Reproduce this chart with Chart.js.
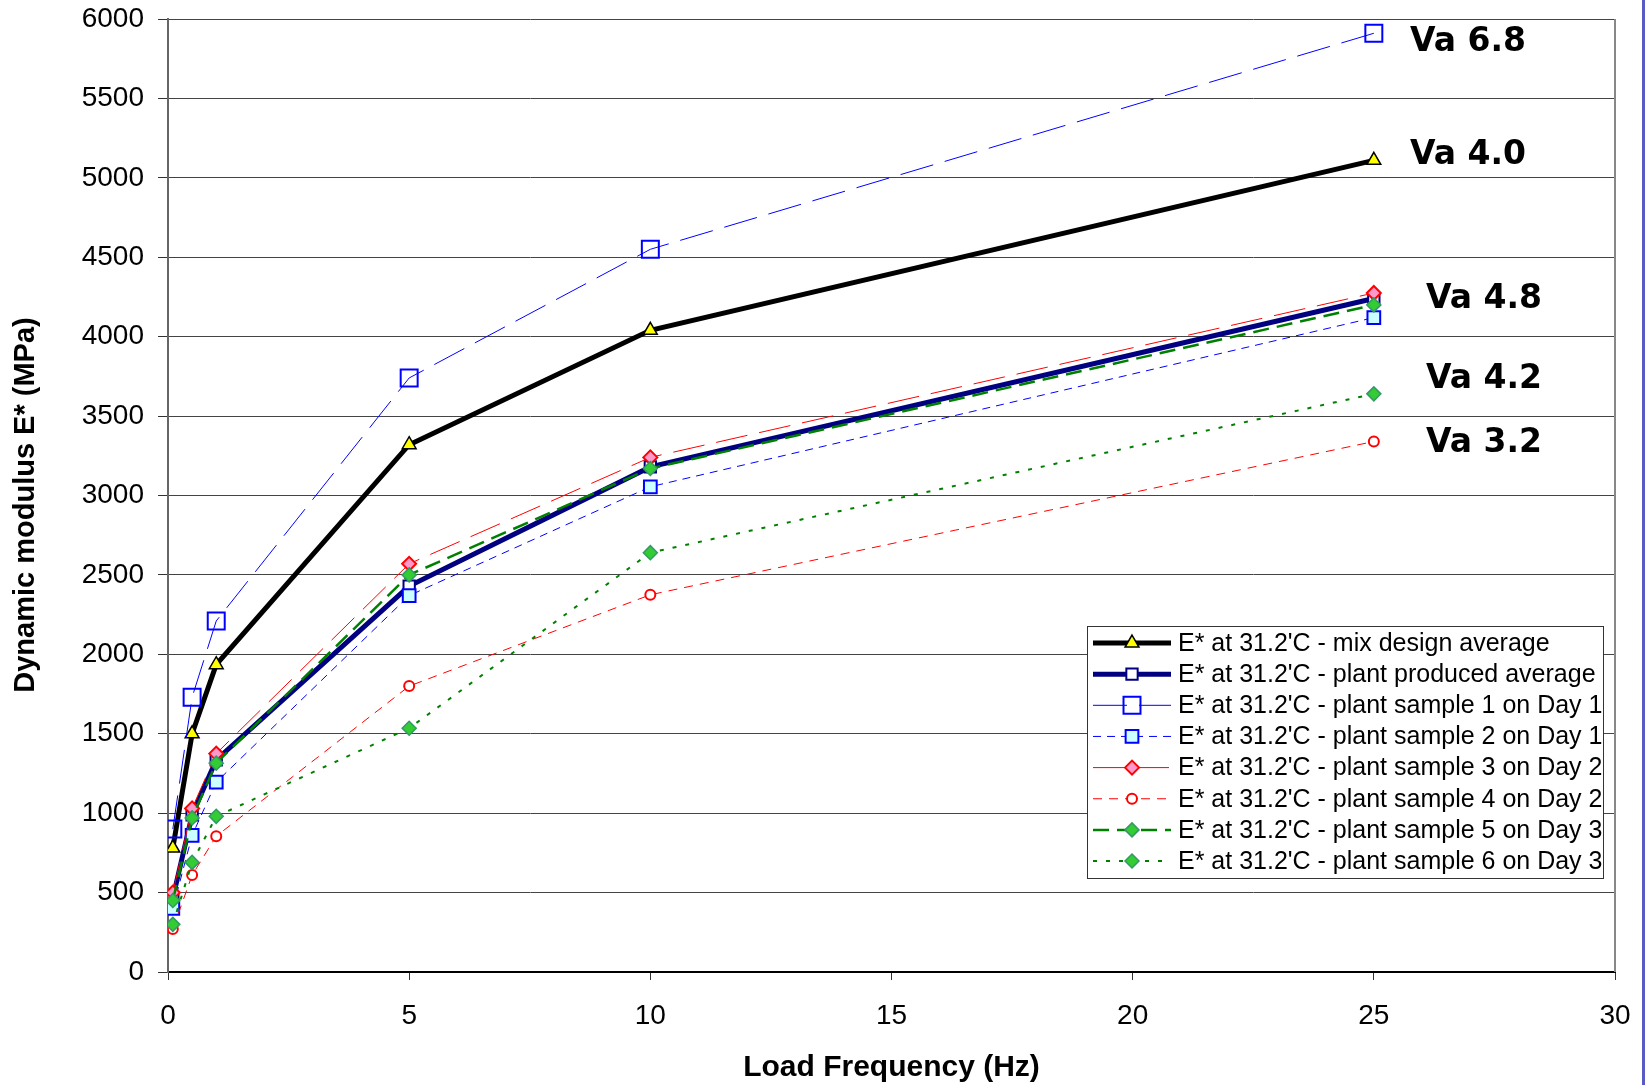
<!DOCTYPE html>
<html>
<head>
<meta charset="utf-8">
<title>Dynamic modulus vs load frequency</title>
<script src="https://cdn.jsdelivr.net/npm/chart.js@4.4.1/dist/chart.umd.min.js"></script>
<style>
  html, body { margin: 0; padding: 0; background: #fff; }
  #wrap { position: relative; width: 1646px; height: 1085px; }
  #edge { position: absolute; left: 1642px; top: 0; width: 3px; height: 1085px; background: #5a5ac4; }
</style>
</head>
<body>
<div id="wrap">
  <canvas id="chart" width="1646" height="1085"></canvas>
  <div id="edge"></div>
</div>
<script>
'use strict';

/* DATA */
const freqs = [0.1, 0.5, 1, 5, 10, 25];
const seriesNames = [
  "E* at 31.2'C - mix design average",
  "E* at 31.2'C - plant produced average",
  "E* at 31.2'C - plant sample 1 on Day 1",
  "E* at 31.2'C - plant sample 2 on Day 1",
  "E* at 31.2'C - plant sample 3 on Day 2",
  "E* at 31.2'C - plant sample 4 on Day 2",
  "E* at 31.2'C - plant sample 5 on Day 3",
  "E* at 31.2'C - plant sample 6 on Day 3"
];
const mixDesignAvg  = [780, 1500, 1935, 3320, 4040, 5110];
const plantAvg      = [465, 990, 1335, 2430, 3180, 4240];
const plantSample1  = [900, 1730, 2210, 3740, 4550, 5910];
const plantSample2  = [400, 860, 1195, 2370, 3055, 4120];
const plantSample3  = [500, 1030, 1375, 2570, 3240, 4275];
const plantSample4  = [270, 610, 855, 1800, 2375, 3340];
const plantSample5  = [450, 970, 1315, 2500, 3170, 4200];
const plantSample6  = [300, 690, 980, 1535, 2640, 3640];
const yTicks = [0, 500, 1000, 1500, 2000, 2500, 3000, 3500, 4000, 4500, 5000, 5500, 6000];
const xTicks = [0, 5, 10, 15, 20, 25, 30];
const vaLabels = ['Va 6.8', 'Va 4.0', 'Va 4.8', 'Va 4.2', 'Va 3.2'];
const vaX = [25.75, 25.75, 26.08, 26.08, 26.08];
const vaY = [5850, 5140, 4235, 3730, 3330];

/* STYLES */
const styles = [
  { color: '#000000', width: 5,   dash: [],       point: 'triangle', r: 8,  fill: '#ffff00', pborder: '#000000', pw: 1.5 },
  { color: '#000080', width: 5,   dash: [],       point: 'rect',     r: 8,  fill: '#ffffff', pborder: '#000080', pw: 2 },
  { color: '#0000ff', width: 1,   dash: [34, 12], point: 'rect',     r: 12, fill: 'rgba(0,0,0,0)', pborder: '#0000ff', pw: 2 },
  { color: '#0000ff', width: 1,   dash: [8, 6],   point: 'rect',     r: 9,  fill: '#ccffff', pborder: '#0000ff', pw: 2 },
  { color: '#ff0000', width: 1,   dash: [32, 12], point: 'rectRot',  r: 7,  fill: '#ff99cc', pborder: '#ff0000', pw: 2 },
  { color: '#ff0000', width: 1,   dash: [9, 7],   point: 'circle',   r: 5,  fill: '#ffffff', pborder: '#ff0000', pw: 2 },
  { color: '#008000', width: 2.5, dash: [16, 8],  point: 'rectRot',  r: 7,  fill: '#33cc33', pborder: '#339966', pw: 1.5 },
  { color: '#008000', width: 2,   dash: [4, 9],   point: 'rectRot',  r: 7,  fill: '#33cc33', pborder: '#339966', pw: 1.5 }
];
const allSeries = [mixDesignAvg, plantAvg, plantSample1, plantSample2, plantSample3, plantSample4, plantSample5, plantSample6];

const datasets = allSeries.map((vals, i) => {
  const s = styles[i];
  return {
    label: seriesNames[i],
    data: freqs.map((f, k) => ({ x: f, y: vals[k] })),
    borderColor: s.color,
    borderWidth: s.width,
    borderDash: s.dash,
    pointStyle: s.point,
    pointRadius: s.r,
    pointBackgroundColor: s.fill,
    pointBorderColor: s.pborder,
    pointBorderWidth: s.pw,
    tension: 0,
    fill: false,
    showLine: true,
    order: 20 - i
  };
});

/* PLOT FRAME + LEGEND + LABELS */
const extras = {
  id: 'extras',
  afterDatasetsDraw(chart) {
    const ctx = chart.ctx;
    const area = chart.chartArea;
    const xs = chart.scales.x, ys = chart.scales.y;
    ctx.save();
    // right frame
    ctx.strokeStyle = '#888';
    ctx.lineWidth = 2;
    ctx.beginPath();
    ctx.moveTo(area.right, area.top);
    ctx.lineTo(area.right, area.bottom);
    ctx.stroke();

    // y axis title (sits a little below the plot centre in the original)
    ctx.save();
    ctx.translate(26, 505);
    ctx.rotate(-Math.PI / 2);
    ctx.font = 'bold 29px "Liberation Sans", Arial, sans-serif';
    ctx.fillStyle = '#000';
    ctx.textAlign = 'center';
    ctx.textBaseline = 'middle';
    ctx.fillText('Dynamic modulus E* (MPa)', 0, 0);
    ctx.restore();

    // Va labels
    ctx.fillStyle = '#000';
    ctx.font = 'bold 33px "DejaVu Sans"';
    ctx.textAlign = 'left';
    ctx.textBaseline = 'middle';
    vaLabels.forEach((t, i) => {
      ctx.fillText(t, xs.getPixelForValue(vaX[i]), ys.getPixelForValue(vaY[i]));
    });

    // legend
    const bx = 1087, by = 626, bw = 516, bh = 252;
    ctx.fillStyle = '#fff';
    ctx.fillRect(bx, by, bw, bh);
    ctx.strokeStyle = '#333';
    ctx.lineWidth = 1;
    ctx.strokeRect(bx + 0.5, by + 0.5, bw, bh);
    ctx.font = '25px "Liberation Sans", Arial, sans-serif';
    chart.data.datasets.forEach((ds, i) => {
      const y = 643 + i * 31.15;
      ctx.setLineDash(ds.borderDash);
      ctx.strokeStyle = ds.borderColor;
      ctx.lineWidth = ds.borderWidth;
      ctx.beginPath();
      ctx.moveTo(1093, y);
      ctx.lineTo(1171, y);
      ctx.stroke();
      ctx.setLineDash([]);
      ctx.fillStyle = ds.pointBackgroundColor;
      ctx.strokeStyle = ds.pointBorderColor;
      ctx.lineWidth = ds.pointBorderWidth;
      Chart.helpers.drawPoint(ctx, { pointStyle: ds.pointStyle, radius: ds.pointRadius, borderWidth: ds.pointBorderWidth, rotation: 0 }, 1132, y);
      ctx.fillStyle = '#000';
      ctx.textBaseline = 'middle';
      ctx.fillText(ds.label, 1178, y + 1);
    });
    ctx.restore();
  }
};

new Chart(document.getElementById('chart'), {
  type: 'scatter',
  data: { datasets },
  plugins: [extras],
  options: {
    responsive: false,
    animation: false,
    layout: { padding: { top: 19, right: 31, bottom: 0, left: 0 } },
    plugins: { legend: { display: false }, tooltip: { enabled: false } },
    scales: {
      x: {
        type: 'linear',
        min: 0, max: 30,
        afterBuildTicks: s => { s.ticks = xTicks.map(v => ({ value: v })); },
        afterFit: s => { s.height = 113; s.paddingLeft = 0; s.paddingRight = 0; },
        grid: { drawOnChartArea: false, tickLength: 8, tickColor: '#333' },
        border: { color: '#000', width: 2 },
        ticks: { color: '#000', padding: 19, callback: v => String(v), font: { family: '"Liberation Sans", Arial', size: 28 } },
        title: { display: true, text: 'Load Frequency (Hz)', color: '#000', padding: { top: 0, bottom: 2 }, font: { family: '"Liberation Sans", Arial', size: 30, weight: 'bold', lineHeight: 1 } }
      },
      y: {
        min: 0, max: 6000,
        afterBuildTicks: s => { s.ticks = yTicks.map(v => ({ value: v })); },
        afterFit: s => { s.width = 168; s.paddingTop = 0; s.paddingBottom = 0; },
        grid: { color: '#444', lineWidth: 1, tickLength: 10, tickColor: '#333' },
        border: { color: '#666', width: 2 },
        ticks: { color: '#000', padding: 14, callback: v => String(v), font: { family: '"Liberation Sans", Arial', size: 28 } },
        title: { display: false }
      }
    }
  }
});
</script>
</body>
</html>
